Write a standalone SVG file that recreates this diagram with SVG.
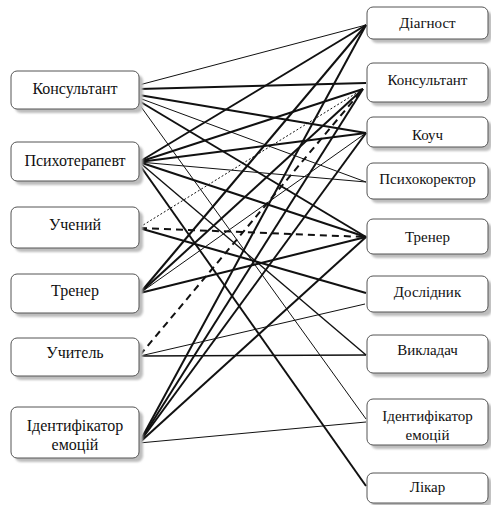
<svg xmlns="http://www.w3.org/2000/svg" width="491" height="505" viewBox="0 0 491 505">
<defs>
<filter id="sh" x="-10%" y="-10%" width="130%" height="140%">
<feGaussianBlur stdDeviation="1"/>
</filter>
</defs>
<style>
.bx{fill:#fff;stroke:#555;stroke-width:1}
.sd{fill:#bdbdbd;filter:url(#sh)}
.c line{stroke:#111;fill:none}
.tk{stroke-width:2}
.tn{stroke-width:1}
.md{stroke-width:1.4}
.ds{stroke-width:2;stroke-dasharray:7,5}
.dt{stroke-width:1;stroke-dasharray:2,2}
</style>
<rect width="491" height="505" fill="#fff"/>
<g class="c" id="connectors">
<line class="tn" x1="139" y1="85" x2="366" y2="25"/>
<line class="tk" x1="139" y1="89" x2="366" y2="83"/>
<line class="tk" x1="139" y1="95" x2="366" y2="133"/>
<line class="tn" x1="139" y1="98" x2="366" y2="182"/>
<line class="tk" x1="139" y1="101" x2="366" y2="237"/>
<line class="tn" x1="139" y1="104" x2="366" y2="419"/>
<line class="tk" x1="139" y1="162" x2="366" y2="25"/>
<line class="tk" x1="139" y1="162" x2="363" y2="89"/>
<line class="tk" x1="139" y1="162" x2="366" y2="133"/>
<line class="tn" x1="139" y1="162" x2="366" y2="182"/>
<line class="tk" x1="139" y1="162" x2="366" y2="237"/>
<line class="md" x1="139" y1="162" x2="366" y2="355"/>
<line class="tk" x1="139" y1="164" x2="366" y2="486"/>
<line class="dt" x1="140" y1="227" x2="363" y2="89"/>
<line class="ds" x1="140" y1="228" x2="366" y2="237"/>
<line class="tk" x1="139" y1="228" x2="366" y2="293"/>
<line class="tk" x1="140" y1="293" x2="366" y2="25"/>
<line class="tk" x1="140" y1="293" x2="363" y2="89"/>
<line class="tn" x1="140" y1="293" x2="366" y2="133"/>
<line class="tk" x1="140" y1="293" x2="366" y2="237"/>
<line class="ds" x1="140" y1="355" x2="363" y2="89"/>
<line class="tn" x1="140" y1="356" x2="365" y2="304"/>
<line class="md" x1="140" y1="356" x2="366" y2="355"/>
<line class="tk" x1="139" y1="443" x2="366" y2="25"/>
<line class="tk" x1="139" y1="443" x2="363" y2="89"/>
<line class="tk" x1="139" y1="443" x2="366" y2="133"/>
<line class="tk" x1="139" y1="443" x2="366" y2="237"/>
<line class="tn" x1="139" y1="443" x2="366" y2="422"/>
</g>
<g font-family="Liberation Serif, serif" font-size="16" text-anchor="middle" fill="#111">
<g id="l-konsultant"><rect class="sd" x="15" y="75" width="128" height="38" rx="6"/><rect class="bx" x="11" y="71" width="128" height="38" rx="6"/><text x="75" y="94">Консультант</text></g>
<g id="l-psykhoterapevt"><rect class="sd" x="15" y="146" width="128" height="39" rx="6"/><rect class="bx" x="11" y="142" width="128" height="39" rx="6"/><text x="75" y="166">Психотерапевт</text></g>
<g id="l-uchenyi"><rect class="sd" x="15" y="211" width="128" height="41" rx="6"/><rect class="bx" x="11" y="207" width="128" height="41" rx="6"/><text x="75" y="230">Учений</text></g>
<g id="l-trener"><rect class="sd" x="15" y="278" width="128" height="39" rx="6"/><rect class="bx" x="11" y="274" width="128" height="39" rx="6"/><text x="75" y="296">Тренер</text></g>
<g id="l-uchytel"><rect class="sd" x="15" y="342" width="128" height="38" rx="6"/><rect class="bx" x="11" y="338" width="128" height="38" rx="6"/><text x="75" y="358">Учитель</text></g>
<g id="l-identyfikator"><rect class="sd" x="15" y="411" width="128" height="51" rx="6"/><rect class="bx" x="11" y="407" width="128" height="51" rx="6"/><text x="75" y="431">Ідентифікатор</text><text x="75" y="450">емоцій</text></g>
</g>
<g font-family="Liberation Serif, serif" font-size="15" text-anchor="middle" fill="#111">
<g id="r-diahnost"><rect class="sd" x="371" y="11" width="121" height="32" rx="6"/><rect class="bx" x="367" y="7" width="121" height="32" rx="6"/><text x="427.5" y="28">Діагност</text></g>
<g id="r-konsultant"><rect class="sd" x="371" y="67" width="121" height="39" rx="6"/><rect class="bx" x="367" y="63" width="121" height="39" rx="6"/><text x="427.5" y="85">Консультант</text></g>
<g id="r-kouch"><rect class="sd" x="371" y="121" width="121" height="30" rx="6"/><rect class="bx" x="367" y="117" width="121" height="30" rx="6"/><text x="427.5" y="140">Коуч</text></g>
<g id="r-psykhokorektor"><rect class="sd" x="371" y="167" width="121" height="36" rx="6"/><rect class="bx" x="367" y="163" width="121" height="36" rx="6"/><text x="427.5" y="184">Психокоректор</text></g>
<g id="r-trener"><rect class="sd" x="371" y="223" width="121" height="35" rx="6"/><rect class="bx" x="367" y="219" width="121" height="35" rx="6"/><text x="427.5" y="242">Тренер</text></g>
<g id="r-doslidnyk"><rect class="sd" x="371" y="280" width="121" height="36" rx="6"/><rect class="bx" x="367" y="276" width="121" height="36" rx="6"/><text x="427.5" y="297">Дослідник</text></g>
<g id="r-vykladach"><rect class="sd" x="371" y="339" width="121" height="38" rx="6"/><rect class="bx" x="367" y="335" width="121" height="38" rx="6"/><text x="427.5" y="355">Викладач</text></g>
<g id="r-identyfikator"><rect class="sd" x="371" y="403" width="121" height="46" rx="6"/><rect class="bx" x="367" y="399" width="121" height="46" rx="6"/><text x="427.5" y="421">Ідентифікатор</text><text x="427.5" y="440">емоцій</text></g>
<g id="r-likar"><rect class="sd" x="371" y="477" width="121" height="30" rx="6"/><rect class="bx" x="367" y="473" width="121" height="30" rx="6"/><text x="427.5" y="492">Лікар</text></g>
</g>
</svg>
